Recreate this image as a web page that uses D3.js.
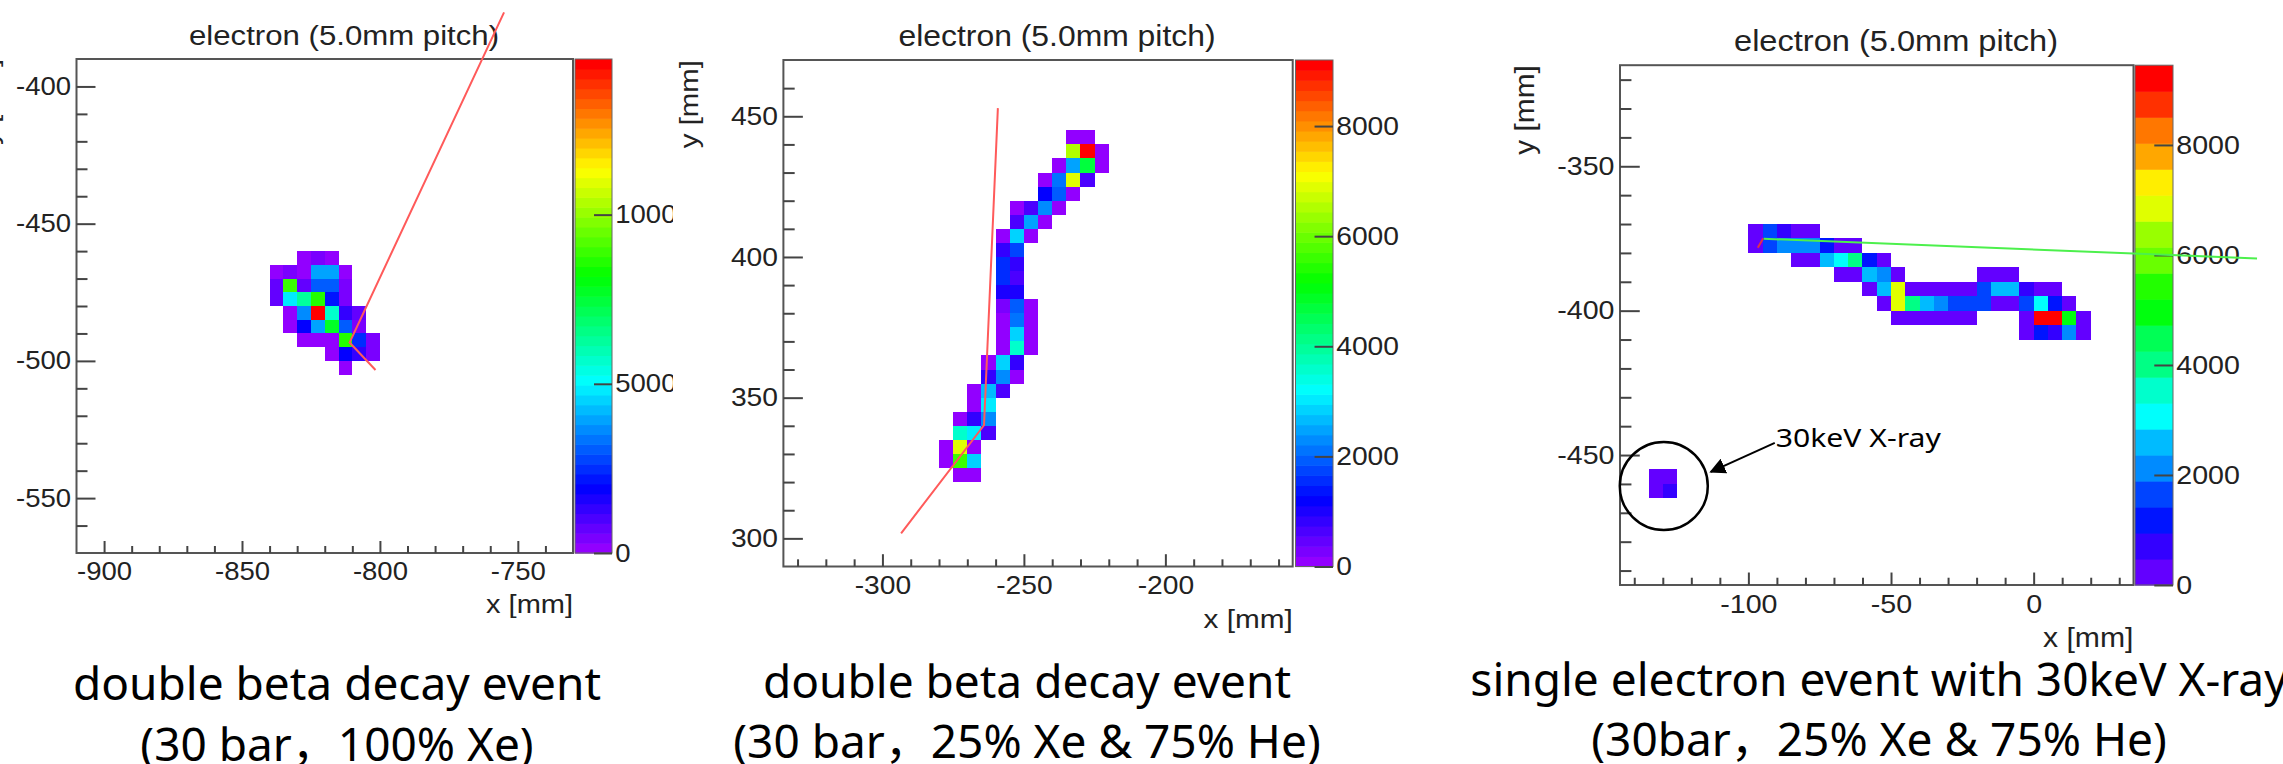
<!DOCTYPE html>
<html>

<head>
    <meta charset="UTF-8">
    <style>
        body { margin: 0; background: #fff; }
        svg { display: block; }
    </style>
</head>

<body>
    <svg></svg>
    <script src="https://d3js.org/d3.v7.min.js"></script>

    <script>
        const W = 2283, H = 764;

        // ---------- data (bin contents, 5 mm pitch, 0 = empty bin) ----------
        // event 1 : columns start at x = -840, rows go down from y = -460
        const ev1X0 = -840, ev1YTop = -460;
        const ev1Rows = [
            [0, 0, 200, 440, 200, 0, 0, 0],
            [200, 300, 200, 4000, 4000, 200, 0, 0],
            [800, 9000, 590, 3000, 3000, 300, 0, 0],
            [590, 4800, 6200, 8600, 2240, 300, 0, 0],
            [0, 200, 3600, 14500, 5600, 1230, 590, 0],
            [0, 200, 1800, 3840, 7800, 3200, 300, 0],
            [0, 0, 200, 200, 200, 8600, 2600, 300],
            [0, 0, 0, 0, 200, 2000, 1230, 300],
            [0, 0, 0, 0, 0, 200, 0, 0]
        ];
        const ev1Track = [[-755, -373], [-811, -493.3], [-801.6, -503.3]];
        const ev1XTicks = [-900, -850, -800, -750];
        const ev1YTicks = [-550, -500, -450, -400];
        const ev1ZTicks = [0, 5000, 10000];

        // event 2 : columns start at x = -280, rows go down from y = 445
        const ev2X0 = -280, ev2YTop = 445;
        const ev2Rows = [
            [0, 0, 0, 0, 0, 0, 0, 0, 0, 150, 150, 0],
            [0, 0, 0, 0, 0, 0, 0, 0, 0, 6550, 9150, 150],
            [0, 0, 0, 0, 0, 0, 0, 0, 150, 2500, 4670, 150],
            [0, 0, 0, 0, 0, 0, 0, 150, 2150, 6950, 640, 0],
            [0, 0, 0, 0, 0, 0, 0, 1140, 2020, 150, 0, 0],
            [0, 0, 0, 0, 0, 150, 640, 2280, 150, 0, 0, 0],
            [0, 0, 0, 0, 0, 640, 2500, 150, 0, 0, 0, 0],
            [0, 0, 0, 0, 150, 2920, 150, 0, 0, 0, 0, 0],
            [0, 0, 0, 0, 770, 1780, 0, 0, 0, 0, 0, 0],
            [0, 0, 0, 0, 1650, 770, 0, 0, 0, 0, 0, 0],
            [0, 0, 0, 0, 1510, 640, 0, 0, 0, 0, 0, 0],
            [0, 0, 0, 0, 1000, 1000, 0, 0, 0, 0, 0, 0],
            [0, 0, 0, 0, 300, 1910, 150, 0, 0, 0, 0, 0],
            [0, 0, 0, 0, 150, 2150, 150, 0, 0, 0, 0, 0],
            [0, 0, 0, 0, 150, 2920, 150, 0, 0, 0, 0, 0],
            [0, 0, 0, 0, 150, 3660, 150, 0, 0, 0, 0, 0],
            [0, 0, 0, 150, 2920, 770, 0, 0, 0, 0, 0, 0],
            [0, 0, 0, 770, 2280, 150, 0, 0, 0, 0, 0, 0],
            [0, 0, 150, 2650, 640, 0, 0, 0, 0, 0, 0, 0],
            [0, 0, 150, 3030, 0, 0, 0, 0, 0, 0, 0, 0],
            [0, 150, 770, 2280, 0, 0, 0, 0, 0, 0, 0, 0],
            [0, 3520, 3030, 640, 0, 0, 0, 0, 0, 0, 0, 0],
            [150, 6950, 150, 0, 0, 0, 0, 0, 0, 0, 0, 0],
            [150, 5670, 2920, 0, 0, 0, 0, 0, 0, 0, 0, 0],
            [0, 150, 150, 0, 0, 0, 0, 0, 0, 0, 0, 0]
        ];
        const ev2Track = [[-259.2, 452.9], [-264.1, 340.2], [-293.4, 301.8]];
        const ev2XTicks = [-300, -250, -200];
        const ev2YTicks = [300, 350, 400, 450];
        const ev2ZTicks = [0, 2000, 4000, 6000, 8000];

        // event 3 : columns start at x = -100, rows go down from y = -370
        const ev3X0 = -100, ev3YTop = -370;
        const ev3Rows = [
            [230, 1650, 700, 230, 230, 0, 0, 0, 0, 0, 0, 0, 0, 0, 0, 0, 0, 0, 0, 0, 0, 0, 0, 0],
            [230, 1650, 2130, 2130, 2130, 1180, 230, 230, 0, 0, 0, 0, 0, 0, 0, 0, 0, 0, 0, 0, 0, 0, 0, 0],
            [0, 0, 0, 230, 230, 2600, 3070, 4000, 1180, 230, 0, 0, 0, 0, 0, 0, 0, 0, 0, 0, 0, 0, 0, 0],
            [0, 0, 0, 0, 0, 0, 230, 230, 2600, 2130, 230, 0, 0, 0, 0, 0, 230, 230, 230, 0, 0, 0, 0, 0],
            [0, 0, 0, 0, 0, 0, 0, 0, 230, 2600, 6900, 230, 230, 230, 230, 230, 1650, 2600, 2600, 700, 230, 230, 0, 0],
            [0, 0, 0, 0, 0, 0, 0, 0, 0, 230, 6900, 4000, 2600, 2130, 1650, 1650, 1650, 230, 230, 1650, 3070, 1180, 230, 0],
            [0, 0, 0, 0, 0, 0, 0, 0, 0, 0, 230, 230, 230, 230, 230, 230, 0, 0, 0, 230, 9200, 9200, 5000, 230],
            [0, 0, 0, 0, 0, 0, 0, 0, 0, 0, 0, 0, 0, 0, 0, 0, 0, 0, 0, 230, 1180, 700, 2130, 230]
        ];
        // isolated 30 keV X-ray cluster
        const xrayX0 = -135, xrayYTop = -455;
        const xrayRows = [
            [230, 230],
            [230, 700]
        ];
        const ev3Track = [[-94.6, -375.1], [78.3, -381.9]];
        const ev3Start = [[-96.7, -378.2], [-94.8, -374.9]];
        const ev3XTicks = [-100, -50, 0];
        const ev3YTicks = [-450, -400, -350];
        const ev3ZTicks = [0, 2000, 4000, 6000, 8000];

        const titleText = "electron (5.0mm pitch)";
        const captionLine1 = ["double beta decay event", "double beta decay event", "single electron event with 30keV X-ray"];
        const captionLine2 = ["(30 bar\uFF0C100% Xe)", "(30 bar\uFF0C25% Xe & 75% He)", "(30bar\uFF0C25% Xe & 75% He)"];

        // ---------- helpers ----------
        const ROOT_FONT = "'Liberation Sans', Arial, Helvetica, sans-serif";
        const JP_FONT = "'Noto Sans', 'Noto Sans CJK JP', sans-serif";
        const SX = 1.1; // the screenshots are a bit stretched horizontally

        // ROOT "pretty palette": 50 colours violet -> red (HLS, l=0.5, s=1)
        function palColor(i) {
            const hue = 280 - (i + 1) * 280 / 50;
            return d3.hsl(Math.max(hue, 0), 1, 0.5).toString();
        }
        function levelColor(k, n) {
            return palColor(Math.min(49, Math.floor((k + 0.99) * 50 / n)));
        }

        function cellsOf(rows, x0, yTop) {
            const out = [];
            rows.forEach((row, r) => row.forEach((v, c) => {
                if (v > 0) out.push({ x: x0 + 5 * c, y: yTop - 5 * (r + 1), v: v });
            }));
            return out;
        }

        let svg = d3.select("svg").attr("width", W).attr("height", H);
        svg.append("rect").attr("width", W).attr("height", H).attr("fill", "#fff");
        const defs = svg.append("defs");
        defs.append("marker")
            .attr("id", "arrow")
            .attr("viewBox", "0 0 10 10")
            .attr("refX", 9).attr("refY", 5)
            .attr("markerWidth", 16).attr("markerHeight", 16)
            .attr("markerUnits", "userSpaceOnUse")
            .attr("orient", "auto")
            .append("path").attr("d", "M0,0L10,5L0,10z").attr("fill", "#000");

        function rootText(sel, x, y, str, size, anchor, rot, width) {
            const t = sel.append("text")
                .attr("transform", `translate(${x},${y})` + (rot ? ` rotate(${rot})` : "") + ` scale(${SX},1)`)
                .attr("text-anchor", anchor)
                .attr("font-family", ROOT_FONT)
                .attr("font-size", size)
                .attr("fill", "#222")
                .text(str);
            if (width) t.attr("textLength", width / SX).attr("lengthAdjust", "spacingAndGlyphs");
            return t;
        }

        function styleAxis(a, fs) {
            a.select(".domain").remove();
            a.attr("font-family", ROOT_FONT).attr("font-size", fs).attr("color", "#444");
            a.selectAll("line").attr("stroke-width", 2);
            a.selectAll("text").attr("fill", "#222").attr("transform", `scale(${SX},1)`);
        }

        // ---------- panels ----------
        const panels = [
            {
                id: 1, box: [76.5, 59, 573, 553], xDom: [-910, -730], yDom: [-570, -390], s: 1.0,
                cbar: [575, 612], zmax: 14600, levels: 50, zTicks: ev1ZTicks, xTicks: ev1XTicks, yTicks: ev1YTicks,
                cells: cellsOf(ev1Rows, ev1X0, ev1YTop), tracks: [{ pts: ev1Track, col: "#ff5a5a" }],
                titleX: 344, titleY: 45, titleW: 310, yLabX: -2, clip: [0, 673]
            },
            {
                id: 2, box: [783.4, 60, 1292.7, 566.5], xDom: [-335, -155], yDom: [290, 470], s: 1.025,
                cbar: [1295.5, 1333], zmax: 9200, levels: 50, zTicks: ev2ZTicks, xTicks: ev2XTicks, yTicks: ev2YTicks,
                cells: cellsOf(ev2Rows, ev2X0, ev2YTop), tracks: [{ pts: ev2Track, col: "#ff5a5a" }],
                titleX: 1057, titleY: 46, titleW: 317, yLabX: 698
            },
            {
                id: 3, box: [1620, 65.2, 2133.5, 585], xDom: [-145, 35], yDom: [-495, -315], s: 1.04,
                cbar: [2135, 2173], zmax: 9450, levels: 20, zTicks: ev3ZTicks, xTicks: ev3XTicks, yTicks: ev3YTicks,
                cells: cellsOf(ev3Rows, ev3X0, ev3YTop).concat(cellsOf(xrayRows, xrayX0, xrayYTop)),
                tracks: [{ pts: ev3Track, col: "#4cf04c" }, { pts: ev3Start, col: "#e0304a" }],
                titleX: 1896, titleY: 51, titleW: 324, yLabX: 1534
            }
        ];

        panels.forEach(p => {
            const [L, T, R, B] = p.box;
            const s = p.s;
            const fs = 25 * s;
            let g = svg.append("g");
            if (p.clip) {
                defs.append("clipPath").attr("id", "clip" + p.id)
                    .append("rect").attr("x", p.clip[0]).attr("y", 0)
                    .attr("width", p.clip[1] - p.clip[0]).attr("height", H);
                g.attr("clip-path", `url(#clip${p.id})`);
            }

            const x = d3.scaleLinear().domain(p.xDom).range([L, R]);
            const y = d3.scaleLinear().domain(p.yDom).range([B, T]);
            const z = d3.scaleLinear().domain([0, p.zmax]).range([B, T]);
            const level = v => Math.min(p.levels - 1, Math.floor(v / p.zmax * p.levels));

            // bins
            g.append("g").selectAll("rect")
                .data(p.cells)
                .join("rect")
                .attr("x", d => x(d.x))
                .attr("y", d => y(d.y + 5))
                .attr("width", d => x(d.x + 5) - x(d.x))
                .attr("height", d => y(d.y) - y(d.y + 5))
                .attr("fill", d => levelColor(level(d.v), p.levels))
                .attr("shape-rendering", "crispEdges");

            // frame
            g.append("rect")
                .attr("x", L).attr("y", T).attr("width", R - L).attr("height", B - T)
                .attr("fill", "none").attr("stroke", "#555").attr("stroke-width", 2);

            // axes: minor ticks every 10 mm, major every 50 mm, ticks inside the frame
            const minorX = d3.range(Math.ceil(p.xDom[0] / 10) * 10, p.xDom[1], 10).filter(v => v % 50 !== 0 && v > p.xDom[0]);
            const minorY = d3.range(Math.ceil(p.yDom[0] / 10) * 10, p.yDom[1], 10).filter(v => v % 50 !== 0 && v > p.yDom[0]);

            g.append("g").attr("transform", `translate(0,${B})`)
                .call(d3.axisBottom(x).tickValues(minorX).tickSize(-7 * s).tickFormat(""))
                .call(a => styleAxis(a, fs));
            g.append("g").attr("transform", `translate(0,${B})`)
                .call(d3.axisBottom(x).tickValues(p.xTicks).tickSize(-12 * s)
                    .tickPadding(27 * s - 0.71 * fs).tickFormat(d => String(d)))
                .call(a => styleAxis(a, fs));
            g.append("g").attr("transform", `translate(${L},0)`)
                .call(d3.axisLeft(y).tickValues(minorY).tickSize(-11 * s).tickFormat(""))
                .call(a => styleAxis(a, fs));
            g.append("g").attr("transform", `translate(${L},0)`)
                .call(d3.axisLeft(y).tickValues(p.yTicks).tickSize(-19 * s).tickPadding(5).tickFormat(d => String(d)))
                .call(a => styleAxis(a, fs));

            // colour bar
            const step = p.zmax / p.levels;
            g.append("g").selectAll("rect")
                .data(d3.range(p.levels))
                .join("rect")
                .attr("x", p.cbar[0])
                .attr("y", k => z((k + 1) * step))
                .attr("width", p.cbar[1] - p.cbar[0])
                .attr("height", k => z(k * step) - z((k + 1) * step) + 0.6)
                .attr("fill", k => levelColor(k, p.levels));
            g.append("rect")
                .attr("x", p.cbar[0]).attr("y", T).attr("width", p.cbar[1] - p.cbar[0]).attr("height", B - T)
                .attr("fill", "none").attr("stroke", "#666").attr("stroke-width", 1);
            g.append("g").attr("transform", `translate(${p.cbar[1]},0)`)
                .call(d3.axisRight(z).tickValues(p.zTicks).tickSize(-18 * s).tickPadding(3).tickFormat(d => String(d)))
                .call(a => styleAxis(a, fs));

            // titles
            rootText(g, p.titleX, p.titleY, titleText, 28 * s, "middle", 0, p.titleW);
            rootText(g, R, B + 60 * s, "x [mm]", 26 * s, "end", 0, 87 * s);
            rootText(g, p.yLabX, T, "y [mm]", 26 * s, "end", -90, 86 * s);

            // fitted track lines (drawn on top, not clipped to the frame)
            const line = d3.line().x(d => x(d[0])).y(d => y(d[1]));
            p.tracks.forEach(t => {
                g.append("path")
                    .attr("d", line(t.pts))
                    .attr("fill", "none")
                    .attr("stroke", t.col)
                    .attr("stroke-width", 2);
            });

            // X-ray annotation on the third panel
            if (p.id === 3) {
                const cx = x(xrayX0 + 5), cy = y(xrayYTop - 5);
                g.append("circle")
                    .attr("cx", cx + 1).attr("cy", cy + 2).attr("r", 44)
                    .attr("fill", "none").attr("stroke", "#000").attr("stroke-width", 2.5);
                g.append("line")
                    .attr("x1", cx + 112).attr("y1", cy - 41)
                    .attr("x2", cx + 48).attr("y2", cy - 12)
                    .attr("stroke", "#000").attr("stroke-width", 2)
                    .attr("marker-end", "url(#arrow)");
                g.append("text")
                    .attr("x", cx + 113).attr("y", cy - 37)
                    .attr("font-family", JP_FONT)
                    .attr("font-size", 26)
                    .attr("textLength", 165)
                    .attr("lengthAdjust", "spacingAndGlyphs")
                    .attr("fill", "#000")
                    .text("30keV X-ray");
            }
        });

        // ---------- captions ----------
        const capX = [337, 1027, 1879];
        const capY1 = [700, 698, 696];
        const capY2 = [761, 758, 756];
        const cap = svg.append("g")
            .attr("font-family", JP_FONT)
            .attr("font-size", 46)
            .attr("fill", "#000")
            .attr("text-anchor", "middle");
        captionLine1.forEach((t, i) => cap.append("text").attr("x", capX[i]).attr("y", capY1[i]).text(t));
        captionLine2.forEach((t, i) => cap.append("text").attr("x", capX[i]).attr("y", capY2[i]).text(t));
    </script>

</body>

</html>
